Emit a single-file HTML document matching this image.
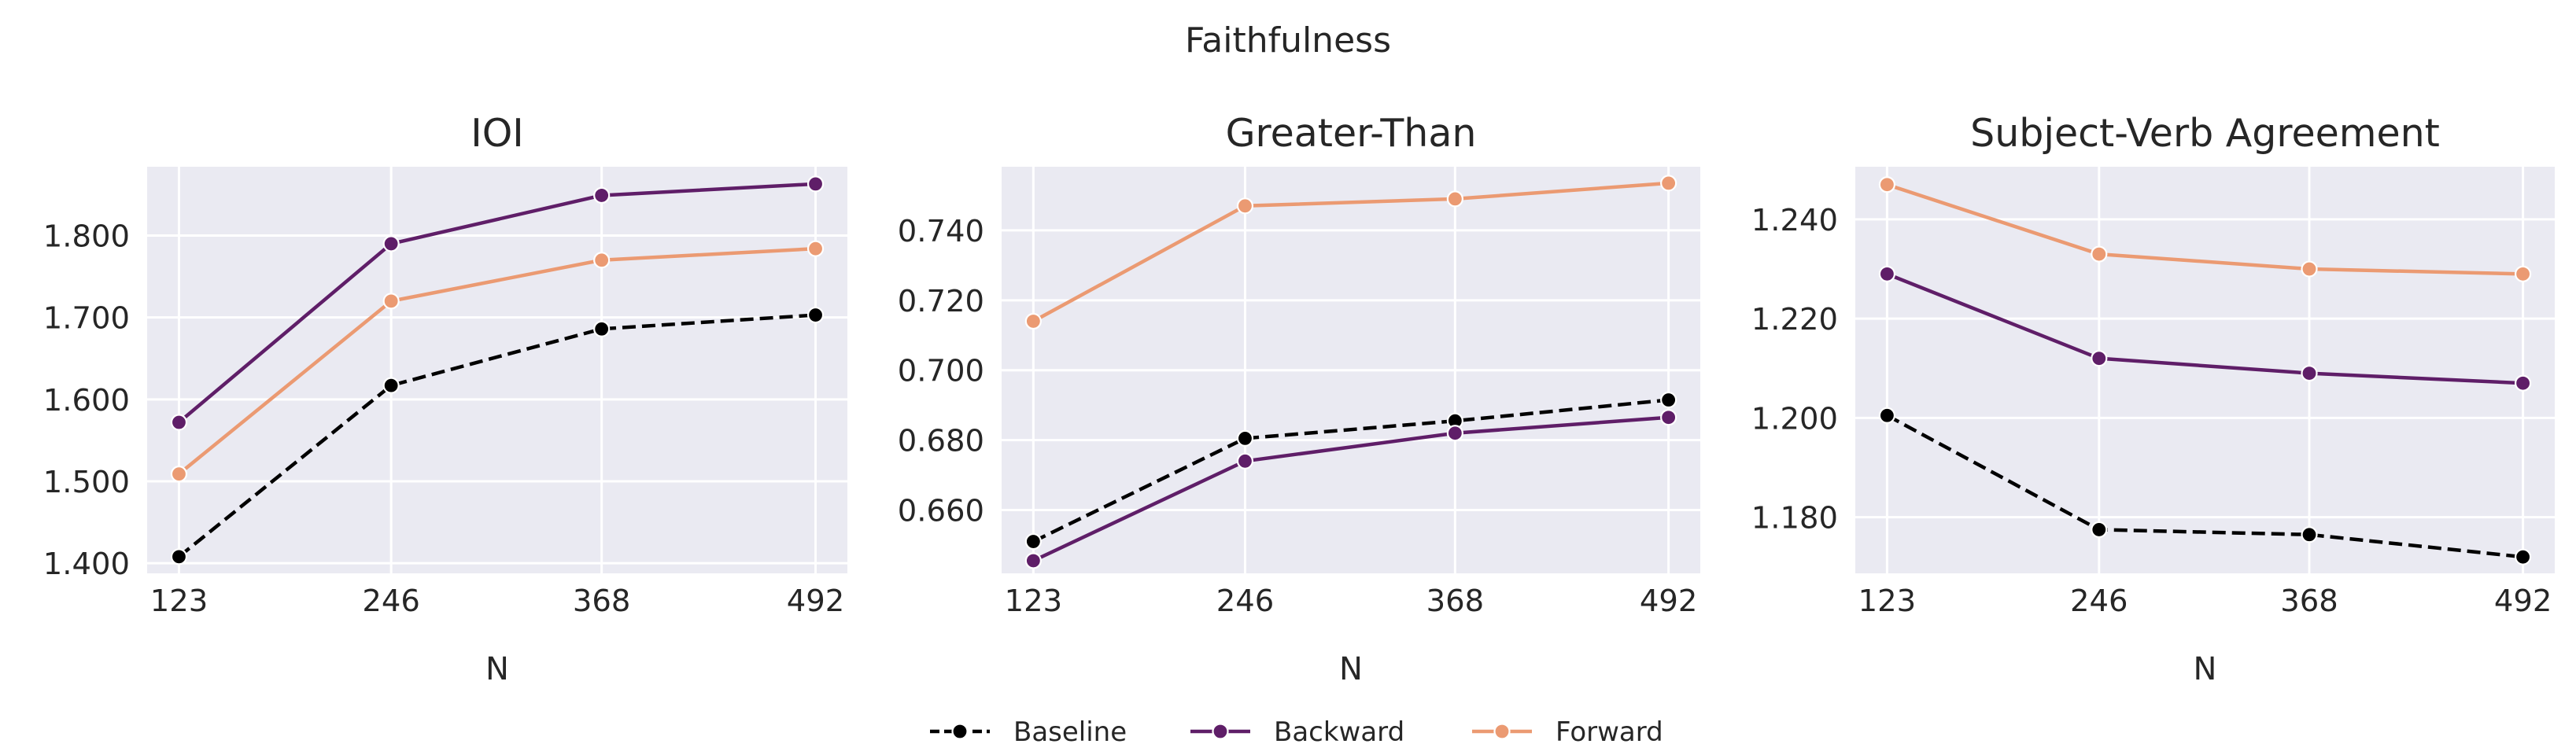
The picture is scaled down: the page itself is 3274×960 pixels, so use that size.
<!DOCTYPE html>
<html><head><meta charset="utf-8"><style>
html,body{margin:0;padding:0;background:#fff;}
svg text{font-family:"DejaVu Sans","Liberation Sans",sans-serif;fill:#262626;}
</style></head><body>
<svg id="chart" xmlns="http://www.w3.org/2000/svg" width="3274" height="955" viewBox="0 0 3274 955">
<rect width="3274" height="955" fill="#fff"/>
<text x="1637" y="66" font-size="44" text-anchor="middle">Faithfulness</text>
<g id="panels"></g>
<g id="legend"></g>
</svg>
<script>
const categories = [123, 246, 368, 492];
const seriesNames = ["Baseline", "Backward", "Forward"];
const ioiBaseline = [1.408, 1.617, 1.686, 1.703];
const ioiBackward = [1.572, 1.790, 1.849, 1.863];
const ioiForward = [1.509, 1.720, 1.770, 1.784];
const gtBaseline = [0.651, 0.6805, 0.6855, 0.6915];
const gtBackward = [0.6455, 0.674, 0.682, 0.6865];
const gtForward = [0.714, 0.747, 0.749, 0.7535];
const svaBaseline = [1.2005, 1.1775, 1.1765, 1.172];
const svaBackward = [1.229, 1.212, 1.209, 1.207];
const svaForward = [1.247, 1.233, 1.230, 1.229];
const ioiTicks = [1.4, 1.5, 1.6, 1.7, 1.8];
const gtTicks = [0.66, 0.68, 0.70, 0.72, 0.74];
const svaTicks = [1.18, 1.20, 1.22, 1.24];
const titles = ["IOI", "Greater-Than", "Subject-Verb Agreement"];

const NS = "http://www.w3.org/2000/svg";
function mk(tag, attrs, parent){const e=document.createElementNS(NS,tag);for(const k in attrs)e.setAttribute(k,attrs[k]);parent.appendChild(e);return e;}
const colors = {Baseline:"#000000", Backward:"#5f1e68", Forward:"#eb9a72"};
const panelsDef = [
  {left:187,right:1077,ymin:1.3877,ymax:1.884,ticks:ioiTicks,data:[ioiBaseline,ioiBackward,ioiForward]},
  {left:1273,right:2161,ymin:0.6419,ymax:0.7582,ticks:gtTicks,data:[gtBaseline,gtBackward,gtForward]},
  {left:2358,right:3247,ymin:1.1687,ymax:1.2506,ticks:svaTicks,data:[svaBaseline,svaBackward,svaForward]}
];
const TOP=212, BOT=729, XMIN=104.55, XMAX=510.45;
const root=document.getElementById('panels');
panelsDef.forEach((p,pi)=>{
  const g=mk('g',{},root);
  
  
  const xs=v=>p.left+(v-XMIN)/(XMAX-XMIN)*(p.right-p.left);
  const ys=v=>BOT-(v-p.ymin)/(p.ymax-p.ymin)*(BOT-TOP);
  const bg=mk('rect',{x:p.left,y:TOP,width:p.right-p.left,height:BOT-TOP,fill:'#eaeaf2'},g);
  
  
  p.ticks.forEach(t=>{
    const y=ys(t);
    const gl=mk('line',{x1:p.left,x2:p.right,y1:y,y2:y,stroke:'#fff','stroke-width':3},g);
    
    
    const tl=mk('text',{x:p.left-22,y:y+14,'font-size':38.5,'text-anchor':'end'},g);
    tl.textContent=t.toFixed(3);
    
    
  });
  categories.forEach(c=>{
    const x=xs(c);
    const gl=mk('line',{x1:x,x2:x,y1:TOP,y2:BOT,stroke:'#fff','stroke-width':3},g);
    
    
    const tl=mk('text',{x:x,y:777,'font-size':38.5,'text-anchor':'middle'},g);
    tl.textContent=String(c);
    
    
  });
  const tt=mk('text',{x:(p.left+p.right)/2,y:186,'font-size':49,'text-anchor':'middle'},g);
  tt.textContent=titles[pi];
  
  
  const xl=mk('text',{x:(p.left+p.right)/2,y:864,'font-size':40,'text-anchor':'middle'},g);
  xl.textContent='N';
  
  
  // draw Baseline last? Order: baseline, backward, forward as in matplotlib
  p.data.forEach((vals,si)=>{
    const name=seriesNames[si];
    const pts=vals.map((v,i)=>xs(categories[i])+','+ys(v)).join(' ');
    const attrs={points:pts,fill:'none',stroke:colors[name],'stroke-width':4.5,'stroke-linejoin':'round'};
    if(name==='Baseline')attrs['stroke-dasharray']='17,8';
    const pl=mk('polyline',attrs,g);
    
    
    vals.forEach((v,i)=>{
      const c=mk('circle',{cx:xs(categories[i]),cy:ys(v),r:9.5,fill:colors[name],stroke:'#fff','stroke-width':2.2},g);
      
      
    });
  });
});
// legend
const lg=document.getElementById('legend');
const legX=[1182,1513,1871];
const legY=930;
seriesNames.forEach((name,i)=>{
  const x0=legX[i];
  const e=mk('g',{},lg);
  
  
  const attrs={x1:x0,x2:x0+76,y1:legY,y2:legY,stroke:colors[name],'stroke-width':4.5};
  if(name==='Baseline')attrs['stroke-dasharray']='12,6';
  mk('line',attrs,e);
  mk('circle',{cx:x0+38,cy:legY,r:9.5,fill:colors[name],stroke:'#fff','stroke-width':2.2},e);
  const t=mk('text',{x:x0+106,y:legY+12,'font-size':34},e);
  t.textContent=name;
});
</script>
</body></html>
